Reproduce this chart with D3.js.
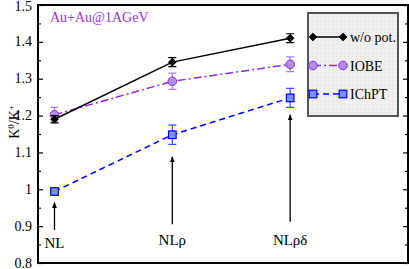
<!DOCTYPE html>
<html>
<head>
<meta charset="utf-8">
<script src="https://cdn.jsdelivr.net/npm/d3@7"></script>
<style>
  body { margin: 0; background: #fff; }
</style>
</head>
<body>
<div id="chart"></div>
<script>
// data
var models = [1, 2, 3];
var modelNames = ["NL", "NL\u03c1", "NL\u03c1\u03b4"];
var woPot = [1.19, 1.345, 1.41];
var woPotErr = [0.01, 0.012, 0.012];
var iobe = [1.202, 1.293, 1.339];
var iobeErr = [0.02, 0.022, 0.02];
var ichpt = [0.994, 1.148, 1.248];
var ichptErr = [0.006, 0.026, 0.026];
var yTicks = [0.8, 0.9, 1, 1.1, 1.2, 1.3, 1.4, 1.5];
// arrow tip / tail in data units
var arrowTip = [0.964, 1.088, 1.202];
var arrowTail = [0.89, 0.905, 0.912];

var WIDTH = 409, HEIGHT = 269;
var margin = {left: 38, right: 1, top: 5, bottom: 6};
var FONT = "'Liberation Serif', 'Times New Roman', Times, serif";

var svg = d3.select("#chart").append("svg")
    .attr("width", WIDTH)
    .attr("height", HEIGHT)
    .attr("font-family", FONT);

var x = d3.scaleLinear().domain([0.86, 4.0]).range([margin.left, WIDTH - margin.right]);
var y = d3.scaleLinear().domain([0.8, 1.5]).range([HEIGHT - margin.bottom, margin.top]);

var defs = svg.append("defs");
defs.append("marker")
    .attr("id", "arrow")
    .attr("viewBox", "0 0 10 10")
    .attr("refX", 9).attr("refY", 5)
    .attr("markerWidth", 6).attr("markerHeight", 7)
    .attr("markerUnits", "userSpaceOnUse")
    .attr("orient", "auto")
    .append("path").attr("d", "M0,1 L10,5 L0,9 Z").attr("fill", "#000");

var pat = defs.append("pattern")
    .attr("id", "dots")
    .attr("width", 4).attr("height", 4)
    .attr("patternUnits", "userSpaceOnUse");
pat.append("rect").attr("width", 4).attr("height", 4).attr("fill", "#efefef");
pat.append("rect").attr("width", 1).attr("height", 1).attr("fill", "#dcdcdc");

// axes: left and right, ticks inside
var minor = d3.range(0.85, 1.5, 0.1);
function ticks(g){ g.select(".domain").remove(); }
svg.append("g").attr("transform", "translate(" + x.range()[0] + ",0)")
    .call(d3.axisRight(y).tickValues(yTicks).tickSize(5).tickFormat("")).call(ticks);
svg.append("g").attr("transform", "translate(" + x.range()[0] + ",0)")
    .call(d3.axisRight(y).tickValues(minor).tickSize(3).tickFormat("")).call(ticks);
svg.append("g").attr("transform", "translate(" + x.range()[1] + ",0)")
    .call(d3.axisLeft(y).tickValues(yTicks).tickSize(5).tickFormat("")).call(ticks);
svg.append("g").attr("transform", "translate(" + x.range()[1] + ",0)")
    .call(d3.axisLeft(y).tickValues(minor).tickSize(3).tickFormat("")).call(ticks);
svg.selectAll(".tick line").attr("stroke", "#000").attr("stroke-width", 1.2);

svg.append("g").selectAll("text")
    .data(yTicks).enter().append("text")
    .attr("x", x.range()[0] - 6)
    .attr("y", function(d){ return y(d) + (d === 1.5 ? 5.5 : 4.5); })
    .attr("text-anchor", "end")
    .attr("font-size", 14)
    .text(function(d){ return d === 1 ? "1" : d3.format(".1f")(d); });

// y label
svg.append("text")
    .attr("transform", "translate(19," + 122 + ") rotate(-90)")
    .attr("text-anchor", "middle")
    .attr("font-size", 14)
    .html("K<tspan dy='-5' font-size='9'>0</tspan><tspan dy='5'>/K</tspan><tspan dy='-5' font-size='9'>+</tspan>");

// title
svg.append("text")
    .attr("x", 50).attr("y", 22)
    .attr("font-size", 14)
    .attr("fill", "#9932cc")
    .text("Au+Au@1AGeV");

// arrows and model labels
var ann = svg.append("g");
ann.selectAll("line").data(models).enter().append("line")
    .attr("x1", function(d){ return x(d); })
    .attr("x2", function(d){ return x(d); })
    .attr("y1", function(d, i){ return y(arrowTail[i]); })
    .attr("y2", function(d, i){ return y(arrowTip[i]); })
    .attr("stroke", "#000").attr("stroke-width", 1.3)
    .attr("marker-end", "url(#arrow)");
ann.selectAll("text").data(models).enter().append("text")
    .attr("x", function(d){ return x(d); })
    .attr("y", function(d, i){ return i === 0 ? 248 : 245; })
    .attr("text-anchor", "middle")
    .attr("font-size", 15)
    .text(function(d, i){ return modelNames[i]; });

var series = [
    {name: "w/o pot.", vals: woPot, err: woPotErr, color: "#000", fill: "#000", errColor: "#000", dash: null, shape: "diamond"},
    {name: "IOBE", vals: iobe, err: iobeErr, color: "#8a2be2", fill: "#b48be6", errColor: "#a97fe0", dash: "8,3,2,3", shape: "circle"},
    {name: "IChPT", vals: ichpt, err: ichptErr, color: "#0000ff", fill: "#7d8fff", errColor: "#3a4dff", dash: "6,4", shape: "square"}
];

var line = d3.line()
    .x(function(d){ return x(d[0]); })
    .y(function(d){ return y(d[1]); });

function drawMarker(g, shape, cx, cy, s) {
    if (shape === "diamond")
        g.append("path").attr("d", "M" + cx + "," + (cy - 3.8) + "L" + (cx + 3.8) + "," + cy + "L" + cx + "," + (cy + 3.8) + "L" + (cx - 3.8) + "," + cy + "Z")
            .attr("fill", s.fill).attr("stroke", s.color);
    else if (shape === "circle")
        g.append("circle").attr("cx", cx).attr("cy", cy).attr("r", 4.3)
            .attr("fill", s.fill).attr("stroke", s.color).attr("stroke-width", 1);
    else
        g.append("rect").attr("x", cx - 3.8).attr("y", cy - 3.8).attr("width", 7.6).attr("height", 7.6)
            .attr("fill", s.fill).attr("stroke", s.color).attr("stroke-width", 1.2);
}

series.slice().reverse().forEach(function(s){
    var pts = models.map(function(m, i){ return [m, s.vals[i]]; });
    var g = svg.append("g");
    g.append("path").datum(pts)
        .attr("d", line)
        .attr("fill", "none")
        .attr("stroke", s.color)
        .attr("stroke-width", 1.5)
        .attr("stroke-dasharray", s.dash);
    pts.forEach(function(p, i){
        var cx = x(p[0]), y0 = y(p[1] - s.err[i]), y1 = y(p[1] + s.err[i]);
        g.append("path")
            .attr("d", "M" + (cx - 4) + "," + y0 + "H" + (cx + 4) + "M" + cx + "," + y0 + "V" + y1 + "M" + (cx - 4) + "," + y1 + "H" + (cx + 4))
            .attr("stroke", s.errColor).attr("stroke-width", 1.2).attr("fill", "none");
        drawMarker(g, s.shape, cx, y(p[1]), s);
    });
});

// frame
svg.append("rect")
    .attr("x", x.range()[0]).attr("y", y.range()[1])
    .attr("width", x.range()[1] - x.range()[0])
    .attr("height", y.range()[0] - y.range()[1])
    .attr("fill", "none").attr("stroke", "#000").attr("stroke-width", 2);

// legend
var lg = svg.append("g");
lg.append("rect")
    .attr("x", 308).attr("y", 13).attr("width", 90).attr("height", 103)
    .attr("fill", "url(#dots)").attr("stroke", "#555").attr("stroke-width", 2);
series.forEach(function(s, i){
    var ly = 37 + i * 28.5;
    lg.append("line")
        .attr("x1", 313).attr("x2", 343).attr("y1", ly).attr("y2", ly)
        .attr("stroke", s.color).attr("stroke-width", 1.5)
        .attr("stroke-dasharray", s.dash);
    drawMarker(lg, s.shape, 313, ly, s);
    drawMarker(lg, s.shape, 343, ly, s);
    lg.append("text")
        .attr("x", 350).attr("y", ly + 5)
        .attr("font-size", 14)
        .text(s.name);
});
</script>
</body>
</html>
